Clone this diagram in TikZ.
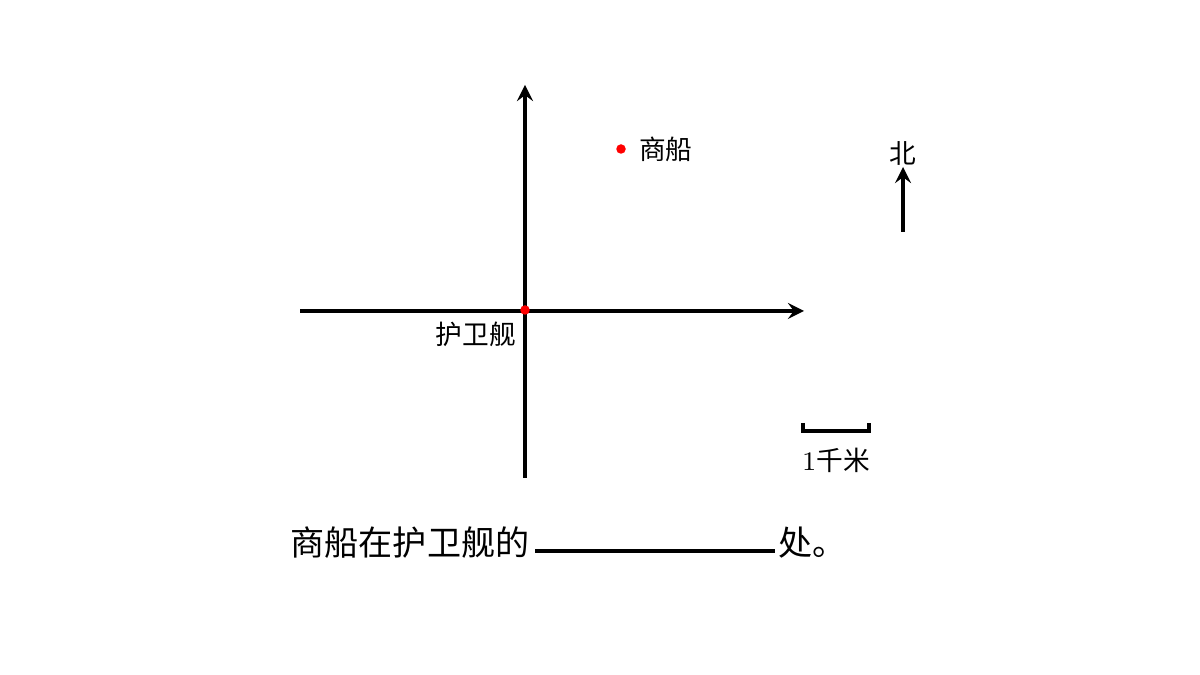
\documentclass[tikz,border=0pt]{standalone}
\usepackage{fontspec}
\newfontfamily\cjk{Noto Sans CJK SC}
\usetikzlibrary{arrows, positioning}
\tikzstyle{axis} = [line width=1pt, ->, >=stealth]
\tikzstyle{dot} = [circle, fill=red, inner sep=0pt, minimum size=0.095cm]
\tikzstyle{tag} = [inner sep=0pt, font=\cjk\fontsize{7.6}{9}\selectfont]
\tikzstyle{big} = [inner sep=0pt, font=\cjk\fontsize{9.7}{11}\selectfont]

\begin{document}
\begin{tikzpicture}
			\useasboundingbox (0,0) rectangle (12,6.75);
			\coordinate (west) at (3.00,3.64);
			\coordinate (east) at (8.04,3.64);
			\coordinate (south) at (5.25,1.97);
			\coordinate (north) at (5.25,5.90);
			\coordinate (ntail) at (9.03,4.43);
			\coordinate (nhead) at (9.03,5.08);
			\coordinate (barL) at (8.03,2.52);
			\coordinate (barR) at (8.69,2.52);
			\coordinate (blankL) at (5.35,1.24);
			\coordinate (blankR) at (7.75,1.24);

			\draw[axis] (west) -- (east);
			\draw[axis] (south) -- (north);
			\draw[axis] (ntail) -- (nhead);
			\draw[line width=1pt] (barL) -- ++(0,-0.08) -| (barR);
			\draw[line width=1pt] (blankL) -- (blankR);

			\node (frigate) [dot] at (5.25,3.65) {};
			\node (merchant) [dot] at (6.21,5.26) {};
			\node (merchanttext) [tag, right=0.12cm of merchant] {商船};
			\node (frigatetext) [tag] at (4.76,3.41) {护卫舰};
			\node (northtext) [tag] at (9.03,5.22) {北};
			\node (scaletext) [tag] at (8.36,2.15) {\rmfamily 1\cjk 千米};
			\node (question) [big, anchor=east] at (5.30,1.32) {商船在护卫舰的};
			\node (tail) [big, anchor=west] at (7.78,1.32) {处。};
		\end{tikzpicture}
\end{document}
